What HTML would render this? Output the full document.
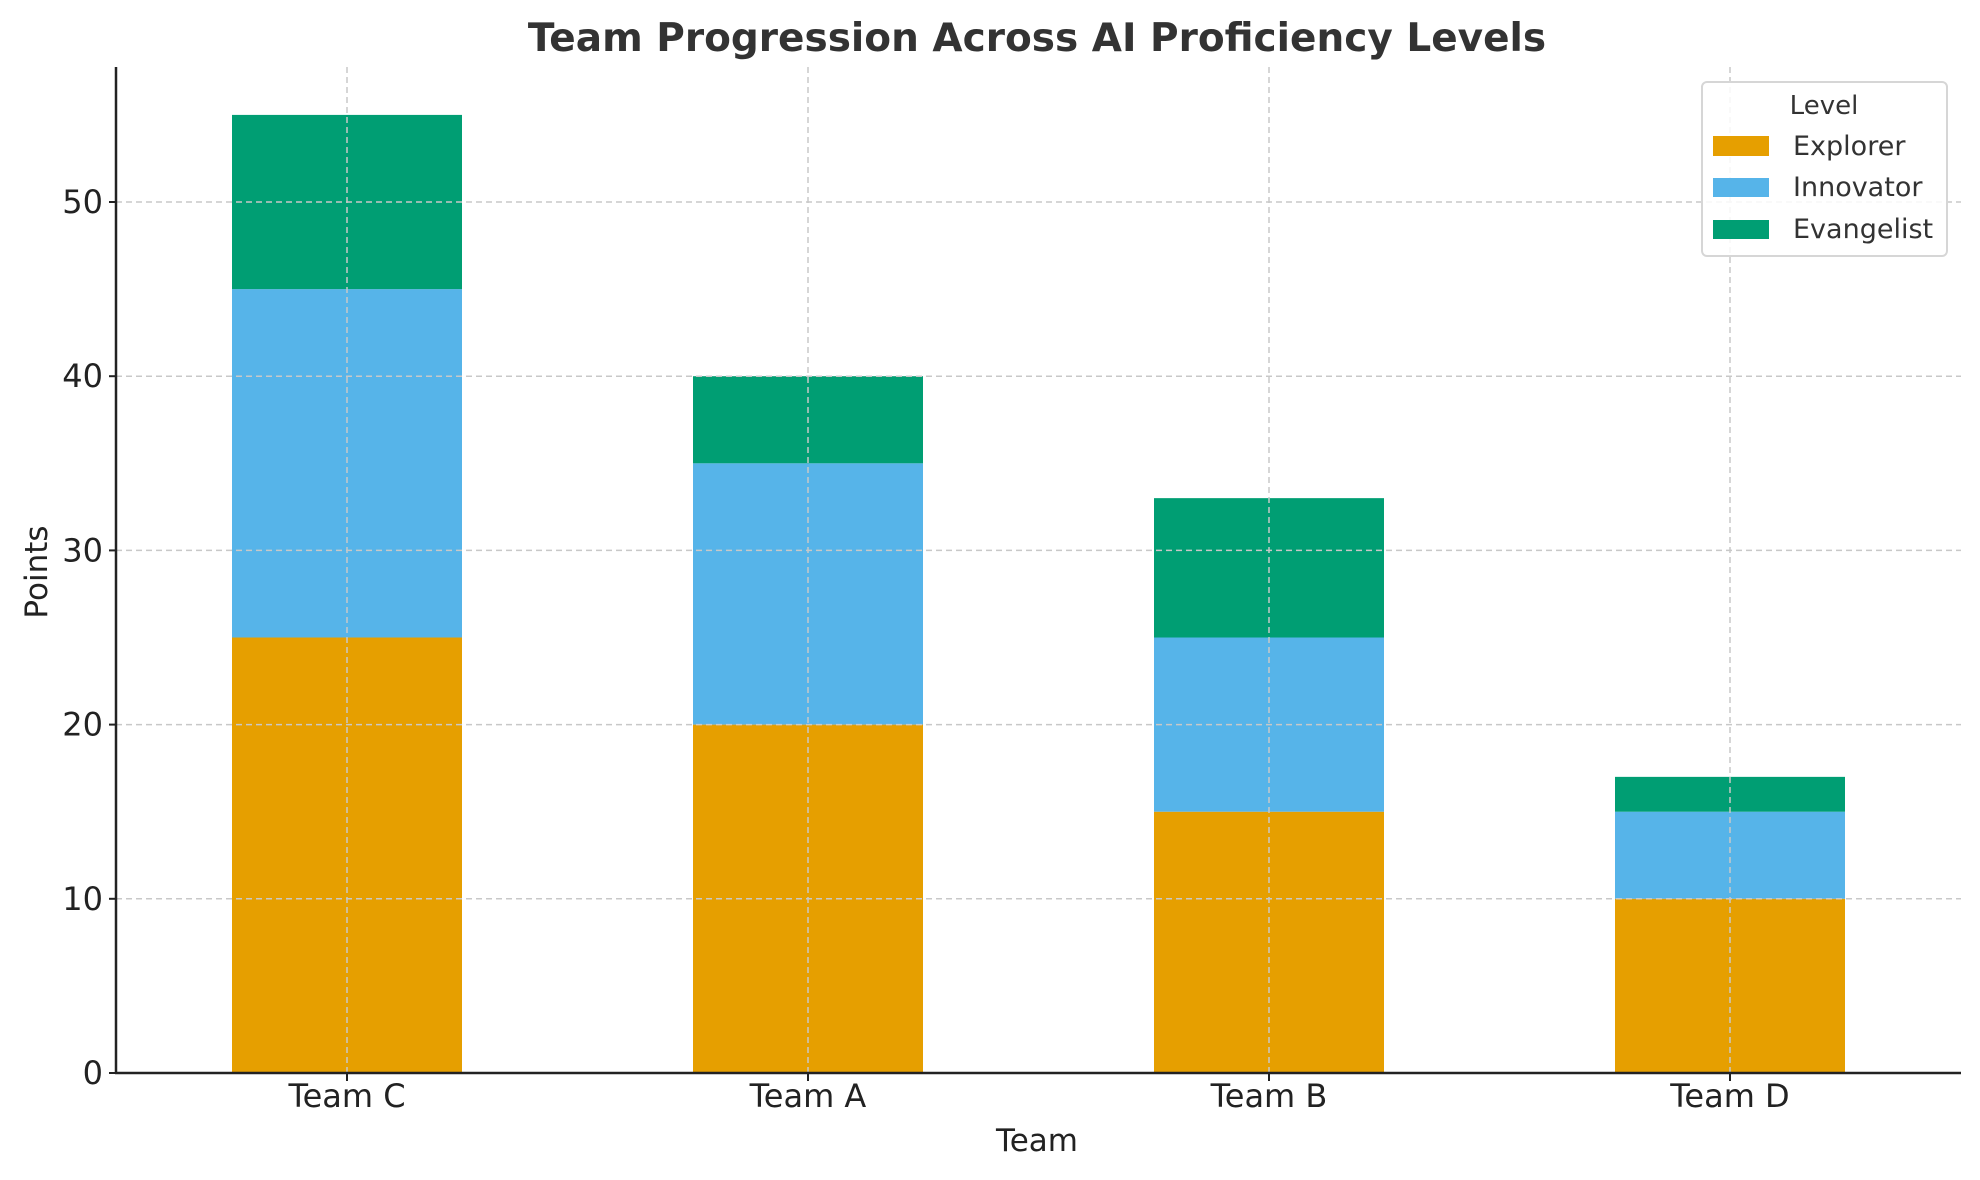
<!DOCTYPE html>
<html><head><meta charset="utf-8">
<style>
html,body{margin:0;padding:0;background:#fff;}
svg{display:block;font-family:"DejaVu Sans","Liberation Sans",sans-serif;}
</style></head>
<body>
<svg id="chart" width="1980" height="1180" viewBox="0 0 1980 1180" xmlns="http://www.w3.org/2000/svg">
<text x="1037" y="51" text-anchor="middle" font-size="39" font-weight="bold" fill="#333">Team Progression Across AI Proficiency Levels</text>
<g id="bars"></g>
<g id="grid"></g>
<g id="axes"></g>
<text x="0" y="0" transform="translate(47,572) rotate(-90)" text-anchor="middle" font-size="31" fill="#222">Points</text>
<text x="1037" y="1151" text-anchor="middle" font-size="31" fill="#222">Team</text>
<g>
<rect x="1702" y="82" width="245" height="174" rx="5" fill="#fff" fill-opacity="0.85" stroke="#d6d6d6" stroke-width="2"/>
<text x="1824" y="114" text-anchor="middle" font-size="26" fill="#333">Level</text>
<rect x="1713" y="136" width="56" height="20" fill="#E69F00"/>
<text x="1793" y="155" font-size="27" fill="#333">Explorer</text>
<rect x="1713" y="178" width="56" height="19" fill="#56B4E9"/>
<text x="1793" y="196" font-size="27" fill="#333">Innovator</text>
<rect x="1713" y="220" width="56" height="19" fill="#009E73"/>
<text x="1793" y="238" font-size="27" fill="#333">Evangelist</text>
</g>
</svg>
<script>
const categories = ["Team C", "Team A", "Team B", "Team D"];
const explorer = [25, 20, 15, 10];
const innovator = [20, 15, 10, 5];
const evangelist = [10, 5, 8, 2];
const yTicks = [0, 10, 20, 30, 40, 50];
const seriesNames = ["explorer", "innovator", "evangelist"];
const seriesColors = ["#E69F00", "#56B4E9", "#009E73"];

const NS = "http://www.w3.org/2000/svg";
const plotLeft = 116, plotRight = 1961, plotTop = 67, plotBottom = 1073;
const yMax = 57.75;
function yScale(v){ return plotBottom - v / yMax * (plotBottom - plotTop); }
function xCenter(i){ return 347 + i * 461; }
const barW = 230;
function mk(tag, attrs, parent){
  const el = document.createElementNS(NS, tag);
  for (const k in attrs) el.setAttribute(k, attrs[k]);
  parent.appendChild(el);
  return el;
}
const gridG = document.getElementById('grid');
const barsG = document.getElementById('bars');
const axesG = document.getElementById('axes');

const data = [explorer, innovator, evangelist];
categories.forEach((c, i) => {
  let base = 0;
  data.forEach((arr, s) => {
    const y0 = yScale(base), y1 = yScale(base + arr[i]);
    const r = mk('rect', {x:xCenter(i)-barW/2, y:y1, width:barW, height:y0-y1, fill:seriesColors[s]}, barsG);
    
    
    base += arr[i];
  });
});

yTicks.forEach(t => {
  const y = yScale(t);
  if (t > 0) {
    const g = mk('line', {x1:plotLeft, x2:plotRight, y1:y, y2:y, stroke:'#c8c8c8', 'stroke-width':1.5, 'stroke-dasharray':'6,4'}, gridG);
    
    
  }
  const tk = mk('line', {x1:plotLeft-7, x2:plotLeft, y1:y, y2:y, stroke:'#222', 'stroke-width':2}, axesG);
  
  
  const lb = mk('text', {x:103, y:y+11, 'text-anchor':'end', 'font-size':32, fill:'#222'}, axesG);
  lb.textContent = String(t);
  
  
});
categories.forEach((c, i) => {
  const x = xCenter(i);
  const g = mk('line', {x1:x, x2:x, y1:plotTop, y2:plotBottom, stroke:'#c8c8c8', 'stroke-width':1.5, 'stroke-dasharray':'6,4'}, gridG);
  
  
  const tk = mk('line', {x1:x, x2:x, y1:plotBottom, y2:plotBottom+8, stroke:'#222', 'stroke-width':2}, axesG);
  
  
  const lb = mk('text', {x:x, y:1107, 'text-anchor':'middle', 'font-size':32, fill:'#222'}, axesG);
  lb.textContent = c;
  
  
});
const ya = mk('line', {x1:plotLeft, x2:plotLeft, y1:plotTop, y2:plotBottom+1, stroke:'#222', 'stroke-width':2.5}, axesG);


const xa = mk('line', {x1:plotLeft-1, x2:plotRight, y1:plotBottom, y2:plotBottom, stroke:'#222', 'stroke-width':2.5}, axesG);


</script>
</body></html>
